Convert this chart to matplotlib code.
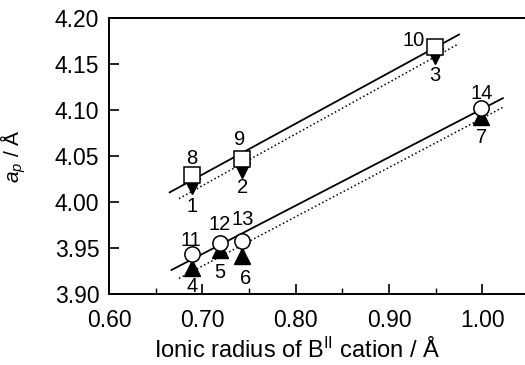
import numpy as np
import matplotlib
matplotlib.use("Agg")
import matplotlib.pyplot as plt
from matplotlib.ticker import MultipleLocator, FormatStrFormatter

plt.rcParams['font.family'] = ['Liberation Sans', 'DejaVu Sans']
plt.rcParams['mathtext.fontset'] = 'custom'
plt.rcParams['mathtext.it'] = 'Liberation Sans:italic'
plt.rcParams['mathtext.rm'] = 'Liberation Sans'

# series 1: squares (open) and down triangles (filled)
r_sq = [0.689, 0.743, 0.949]
a_sq = [4.029, 4.047, 4.169]
lab_sq = ['8', '9', '10']
a_dn = [4.017, 4.035, 4.159]
lab_dn = ['1', '2', '3']

# series 2: circles (open) and up triangles (filled)
r_ci = [0.689, 0.719, 0.743, 0.999]
a_ci = [3.943, 3.955, 3.958, 4.102]
lab_ci = ['11', '12', '13', '14']
a_up = [3.928, 3.948, 3.941, 4.092]
lab_up = ['4', '5', '6', '7']

# label offsets in pixels (dx, dy up)
off_sq = [(0, 17), (-3, 19), (-21, 6)]
off_dn = [(0, -20), (0, -18), (0, -20)]
off_ci = [(-1, 14), (0, 19), (0, 21), (0, 15)]
off_up = [(0, -18), (0, -23), (3, -22), (0, -20)]

fig = plt.figure(figsize=(5.25, 3.65), dpi=100)
ax = fig.add_axes([109/525, 1-294/365, 420/525, 276/365])

def fit_line(x, y, x0, x1, style):
    p = np.polyfit(x, y, 1)
    xs = np.array([x0, x1])
    ax.plot(xs, np.polyval(p, xs), style, color='black',
            lw=1.3 if style == '-' else 1.1, zorder=1)

fit_line(r_sq, a_sq, 0.665, 0.975, '-')
fit_line(r_sq, a_dn, 0.675, 0.975, ':')
fit_line(r_ci, a_ci, 0.667, 1.022, '-')
fit_line(r_ci, a_up, 0.675, 1.024, ':')

ax.plot(r_sq, a_dn, 'v', color='black', ms=12, zorder=2)
ax.plot(r_ci, a_up, '^', color='black', ms=12, zorder=2)
ax.plot(r_sq, a_sq, 's', mfc='white', mec='black', mew=1.1, ms=11, zorder=3)
ax.plot(r_ci, a_ci, 'o', mfc='white', mec='black', mew=1.1, ms=11, zorder=3)

fs = 14.5
def put_labels(xs, ys, labels, offs):
    for x, y, t, (dx, dy) in zip(xs, ys, labels, offs):
        ax.annotate(t, (x, y), xytext=(dx * 0.72, dy * 0.72), textcoords='offset points',
                    ha='center', va='center', fontsize=fs)

put_labels(r_sq, a_sq, lab_sq, off_sq)
put_labels(r_sq, a_dn, lab_dn, off_dn)
put_labels(r_ci, a_ci, lab_ci, off_ci)
put_labels(r_ci, a_up, lab_up, off_up)

ax.set_xlim(0.60, 1.05)
ax.set_ylim(3.90, 4.20)
ax.xaxis.set_major_locator(MultipleLocator(0.1))
ax.xaxis.set_minor_locator(MultipleLocator(0.05))
ax.yaxis.set_major_locator(MultipleLocator(0.05))
ax.xaxis.set_major_formatter(FormatStrFormatter('%.2f'))
ax.yaxis.set_major_formatter(FormatStrFormatter('%.2f'))
ax.tick_params(direction='in', which='major', length=7, width=1.2, labelsize=16.5)
ax.tick_params(direction='in', which='minor', length=4, width=1.0)
ax.tick_params(axis='x', pad=11)
ax.tick_params(axis='y', pad=7)
for s in ax.spines.values():
    s.set_linewidth(1.4)

ax.set_xlabel('Ionic radius of B$^{\\mathrm{II}}$ cation / Å', fontsize=17)
ax.set_ylabel('$a_p$ / Å', fontsize=15)
ax.xaxis.set_label_coords((297 - 109) / 420, -(338 - 294) / 276)
ax.yaxis.set_label_coords((28 - 109) / 420, 0.5)

fig.savefig('out.png', dpi=100)
